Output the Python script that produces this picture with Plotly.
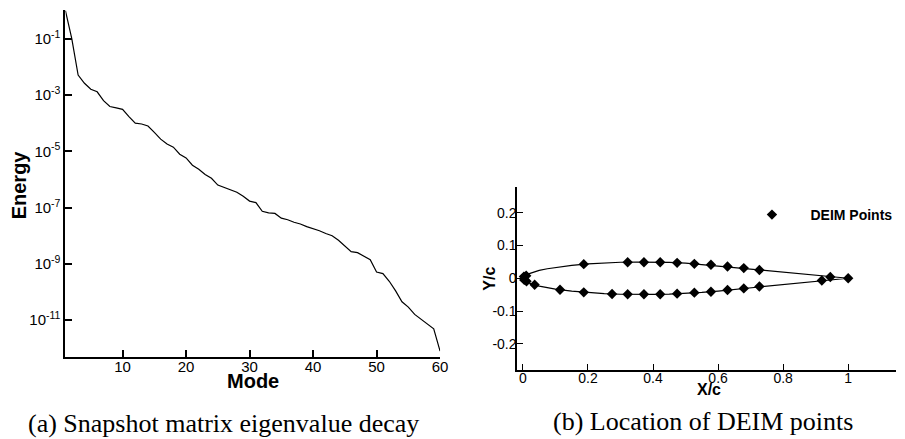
import plotly.graph_objects as go

# ---------------- data: (a) eigenvalue decay ----------------
modes = list(range(1, 61))
energy = [1.0, 1.0e-1, 5.1e-3, 2.6e-3, 1.6e-3, 1.3e-3, 6.3e-4, 3.9e-4, 3.5e-4, 3.1e-4,
          1.7e-4, 1.0e-4, 9.3e-5, 7.9e-5, 4.7e-5, 2.7e-5, 1.8e-5, 1.4e-5, 7.9e-6, 5.8e-6,
          3.2e-6, 2.3e-6, 1.5e-6, 1.1e-6, 6.3e-7, 5.2e-7, 4.3e-7, 3.5e-7, 2.5e-7, 1.7e-7,
          1.5e-7, 7.4e-8, 6.5e-8, 6.2e-8, 4.2e-8, 3.7e-8, 3.0e-8, 2.6e-8, 2.1e-8, 1.8e-8,
          1.5e-8, 1.2e-8, 1.0e-8, 6.9e-9, 4.2e-9, 2.7e-9, 2.5e-9, 1.9e-9, 1.4e-9, 5.1e-10,
          4.5e-10, 2.4e-10, 1.1e-10, 4.5e-11, 2.9e-11, 1.6e-11, 1.1e-11, 7.4e-12, 4.9e-12, 7.9e-13]
energy_tickvals = [1e-1, 1e-3, 1e-5, 1e-7, 1e-9, 1e-11]
energy_ticktext = ["10<sup>-1</sup>", "10<sup>-3</sup>", "10<sup>-5</sup>",
                   "10<sup>-7</sup>", "10<sup>-9</sup>", "10<sup>-11</sup>"]

# ---------------- data: (b) airfoil and DEIM points ----------------
airfoil_x = [1.0, 0.95, 0.9, 0.85, 0.8, 0.75, 0.7, 0.65, 0.6, 0.55, 0.5, 0.45, 0.4, 0.35,
             0.3, 0.25, 0.2, 0.15, 0.1, 0.075, 0.05, 0.025, 0.0125, 0.005, 0.0,
             0.005, 0.0125, 0.025, 0.05, 0.075, 0.1, 0.15, 0.2, 0.25, 0.3, 0.35, 0.4,
             0.45, 0.5, 0.55, 0.6, 0.65, 0.7, 0.75, 0.8, 0.85, 0.9, 0.95, 1.0]
airfoil_y = [0.0, 0.0046, 0.0092, 0.0138, 0.0183, 0.0230, 0.0285, 0.0340, 0.0390, 0.0430,
             0.0462, 0.0482, 0.0492, 0.0495, 0.0488, 0.0470, 0.0440, 0.0395, 0.0330, 0.0290,
             0.0240, 0.0170, 0.0120, 0.0075, 0.0,
             -0.0075, -0.0120, -0.0170, -0.0240, -0.0290, -0.0330, -0.0395, -0.0440, -0.0470,
             -0.0488, -0.0495, -0.0492, -0.0482, -0.0462, -0.0430, -0.0390, -0.0340, -0.0285,
             -0.0230, -0.0183, -0.0138, -0.0092, -0.0046, 0.0]
deim_x = [0.187, 0.322, 0.372, 0.422, 0.474, 0.527, 0.578, 0.629, 0.679, 0.727,
          0.036, 0.114, 0.187, 0.274, 0.322, 0.372, 0.422, 0.474, 0.527, 0.578, 0.629, 0.679, 0.727,
          0.919, 0.945, 1.0,
          0.003, 0.010, 0.004, 0.011]
deim_y = [0.043, 0.049, 0.049, 0.049, 0.047, 0.044, 0.041, 0.036, 0.031, 0.025,
          -0.020, -0.035, -0.043, -0.048, -0.049, -0.049, -0.049, -0.047, -0.044, -0.041, -0.036, -0.031, -0.025,
          -0.007, 0.004, 0.0,
          0.005, 0.008, -0.005, -0.009]
yc_alias = {"\u22120.1": "-0.1", "\u22120.2": "-0.2"}

W, H = 905, 439
M = 1
SANS = "Liberation Sans, Arial, Helvetica, sans-serif"
SERIF = "Liberation Serif, Times New Roman, serif"

def px(x):
    return (x - M) / (W - 2 * M)

def py(y):
    return 1 - (y - M) / (H - 2 * M)

fig = go.Figure()

fig.add_trace(go.Scatter(x=modes, y=energy, mode="lines",
                         line=dict(color="black", width=1.2),
                         xaxis="x", yaxis="y", showlegend=False))
fig.add_trace(go.Scatter(x=airfoil_x, y=airfoil_y, mode="lines",
                         line=dict(color="black", width=1.2),
                         xaxis="x2", yaxis="y2", showlegend=False))
fig.add_trace(go.Scatter(x=deim_x, y=deim_y, mode="markers", name="<b>DEIM Points</b>",
                         marker=dict(symbol="diamond", size=8, color="black"),
                         xaxis="x2", yaxis="y2", showlegend=True))

dom_x1 = [px(66), px(444)]
dom_y1 = [py(357), py(10)]
dom_x2 = [px(521.7), min(1.0, px(904))]
dom_y2 = [py(370), py(186.5)]
range_x1 = [1, 60]
range_x2 = [-0.018, 1.147]
range_y2 = [-0.28, 0.28]

TRANSPARENT = "rgba(0,0,0,0)"
common = dict(showgrid=True, gridcolor=TRANSPARENT, zerolinecolor=TRANSPARENT,
              tickcolor="#000000", ticks="inside")

fig.update_layout(
    width=W, height=H,
    margin=dict(l=M, r=M, t=M, b=M, pad=0),
    plot_bgcolor="white",
    xaxis=dict(domain=dom_x1, anchor="y", range=range_x1,
               tickmode="linear", tick0=0, dtick=10, ticklen=7, tickwidth=2,
               showline=True, linecolor="black", linewidth=2,
               tickfont=dict(size=15, family=SANS, color="black"), ticklabelstandoff=-5, **common),
    yaxis=dict(domain=dom_y1, anchor="x", type="log", range=[-12.31, 0.02],
               tickmode="array", tickvals=energy_tickvals, ticktext=energy_ticktext,
               ticklen=7, tickwidth=2,
               showline=True, linecolor="black", linewidth=2,
               tickfont=dict(size=15, family=SANS, color="black"), **common),
    xaxis3=dict(overlaying="x", anchor="y", range=range_x1,
                tickmode="linear", tick0=0, dtick=2, ticklen=4, tickwidth=1,
                showticklabels=False, showline=False, **common),
    xaxis2=dict(domain=dom_x2, anchor="y2", range=range_x2,
                tickmode="linear", tick0=0, dtick=0.2, ticklen=6, tickwidth=1,
                showline=True, linecolor="black", linewidth=1.5,
                tickfont=dict(size=14, family=SANS, color="black"), ticklabelstandoff=-6, **common),
    xaxis4=dict(overlaying="x2", anchor="y2", range=range_x2,
                tickmode="linear", tick0=0, dtick=0.05, ticklen=3, tickwidth=1,
                showticklabels=False, showline=False, **common),
    yaxis2=dict(domain=dom_y2, anchor="x2", range=range_y2,
                tickmode="linear", tick0=0, dtick=0.1, labelalias=yc_alias,
                ticklen=6, tickwidth=1,
                showline=True, linecolor="black", linewidth=1.5,
                tickfont=dict(size=14, family=SANS, color="black"), ticklabelstandoff=-4, **common),
    yaxis4=dict(overlaying="y2", anchor="x2", range=range_y2,
                tickmode="linear", tick0=0, dtick=0.02, ticklen=3, tickwidth=1,
                showticklabels=False, showline=False, **common),
    legend=dict(x=px(740), y=py(199), xanchor="left", yanchor="top",
                bgcolor=TRANSPARENT, borderwidth=0, itemwidth=67,
                font=dict(size=14, family=SANS, color="black")),
)

annotations = [
    dict(text="<b>Energy</b>", x=px(19.5), y=py(185), textangle=-90, size=20),
    dict(text="<b>Mode</b>", x=px(255), y=py(381), textangle=0, size=20),
    dict(text="<b>Y/c</b>", x=px(493.5), y=py(278.5), textangle=-90, size=16),
    dict(text="<b>X/c</b>", x=px(715), y=py(389), textangle=0, size=16),
]
for a in annotations:
    fig.add_annotation(text=a["text"], x=a["x"], y=a["y"], xref="paper", yref="paper",
                       xanchor="center", yanchor="middle", showarrow=False,
                       textangle=a["textangle"], font=dict(size=a["size"], family=SANS, color="black"))

captions = [
    ("(a) Snapshot matrix eigenvalue decay", 225, 423),
    ("(b) Location of DEIM points", 709, 421),
]
for text, cx, cy in captions:
    fig.add_annotation(text=text, x=px(cx), y=py(cy), xref="paper", yref="paper",
                       xanchor="center", yanchor="middle", showarrow=False,
                       font=dict(size=26, family=SERIF, color="black"))

fig.write_html("out.html")
